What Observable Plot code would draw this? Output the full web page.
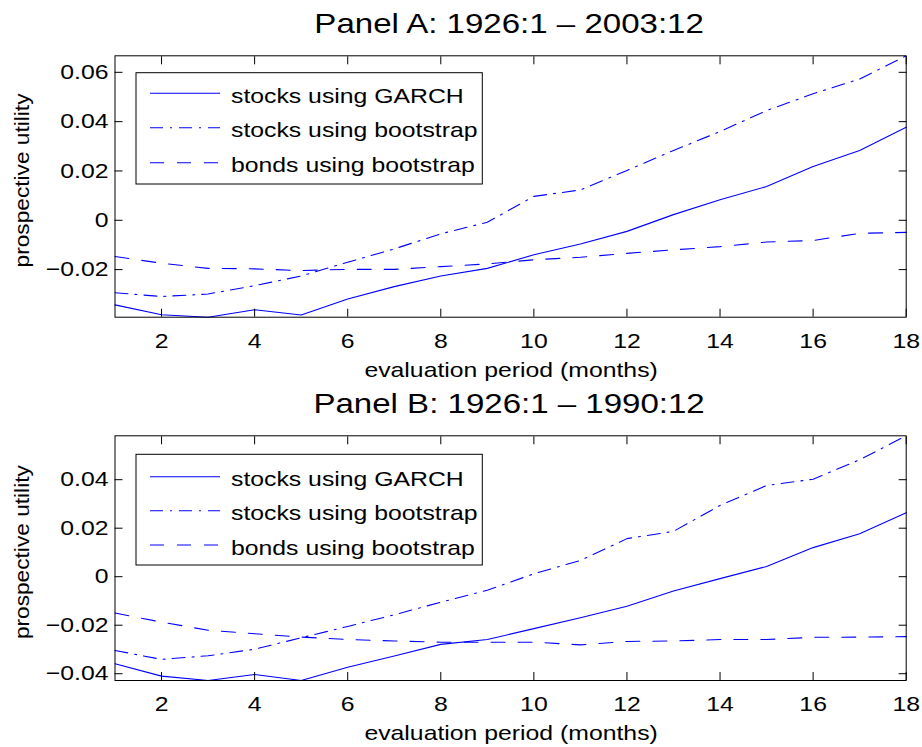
<!DOCTYPE html>
<html>
<head>
<meta charset="utf-8">
<script src="https://cdn.jsdelivr.net/npm/d3@7"></script>
<script src="https://cdn.jsdelivr.net/npm/@observablehq/plot@0.6"></script>
<style>
  body { margin: 0; background: #ffffff; }
  #chart svg { display: block; }
</style>
</head>
<body>
<div id="chart"></div>
<script>
// ---------------- data ----------------
const months = [1, 2, 3, 4, 5, 6, 7, 8, 9, 10, 11, 12, 13, 14, 15, 16, 17, 18];
const xTicks = [2, 4, 6, 8, 10, 12, 14, 16, 18];
const seriesNames = ["stocks using GARCH", "stocks using bootstrap", "bonds using bootstrap"];
const panelTitles = ["Panel A: 1926:1 \u2013 2003:12", "Panel B: 1926:1 \u2013 1990:12"];
const xLabel = "evaluation period (months)";
const yLabel = "prospective utility";
const yTicksA = [-0.02, 0, 0.02, 0.04, 0.06];
const yTicksB = [-0.04, -0.02, 0, 0.02, 0.04];

const aGarch = [-0.0343, -0.0383, -0.0393, -0.0363, -0.0384, -0.0319, -0.0269, -0.0226, -0.0195, -0.0140, -0.0096, -0.0045, 0.0023, 0.0083, 0.0137, 0.0218, 0.0283, 0.0377];
const aStocksBoot = [-0.0294, -0.0309, -0.0299, -0.0265, -0.0226, -0.0170, -0.0116, -0.0055, -0.0008, 0.0097, 0.0123, 0.0202, 0.0283, 0.0360, 0.0445, 0.0513, 0.0573, 0.0667];
const aBondsBoot = [-0.0147, -0.0174, -0.0195, -0.0197, -0.0204, -0.0199, -0.0199, -0.0188, -0.0177, -0.0160, -0.0150, -0.0134, -0.0120, -0.0107, -0.0088, -0.0082, -0.0053, -0.0049];

const bGarch = [-0.0359, -0.0410, -0.0428, -0.0403, -0.0428, -0.0373, -0.0327, -0.0279, -0.0259, -0.0214, -0.0169, -0.0122, -0.0059, -0.0008, 0.0042, 0.0120, 0.0177, 0.0264];
const bStocksBoot = [-0.0304, -0.0341, -0.0326, -0.0299, -0.0252, -0.0205, -0.0157, -0.0105, -0.0056, 0.0012, 0.0067, 0.0157, 0.0187, 0.0294, 0.0376, 0.0402, 0.0482, 0.0581];
const bBondsBoot = [-0.0150, -0.0187, -0.0221, -0.0235, -0.0249, -0.0259, -0.0265, -0.0270, -0.0270, -0.0270, -0.0281, -0.0267, -0.0265, -0.0259, -0.0259, -0.0250, -0.0249, -0.0247];

// ---------------- styling / layout ----------------
const BLUE = "#0000ff";
const dashes = [null, "13,7,2,7", "14,13"];
const FONT = "'Liberation Sans', Arial, Helvetica, sans-serif";
const STRETCH = 1.18;
const W = 922, ML = 114.5, MR = 16.3;

const panels = [
  { title: panelTitles[0], series: [aGarch, aStocksBoot, aBondsBoot], yTicks: yTicksA,
    height: 380, mt: 55.3, mb: 63.3, legTop: 17.4, legH: 111.3, rows: [38, 72.4, 107.4] },
  { title: panelTitles[1], series: [bGarch, bStocksBoot, bBondsBoot], yTicks: yTicksB,
    height: 367, mt: 55.3, mb: 67, legTop: 19, legH: 110.7, rows: [41.4, 75.4, 109.7] }
];

const root = document.getElementById("chart");

function makePanel(p) {
  const rows = [];
  p.series.forEach((vals, s) => months.forEach((m, i) => rows.push({ series: seriesNames[s], s, month: m, value: vals[i] })));
  const empty = () => "";
  const svg = Plot.plot({
    width: W, height: p.height,
    marginLeft: ML, marginRight: MR, marginTop: p.mt, marginBottom: p.mb,
    style: { fontFamily: FONT, fontSize: "21px", color: "black", background: "white", overflow: "visible" },
    x: { domain: [1, 18], inset: 0 },
    y: { inset: 0 },
    marks: [
      ...[0, 1, 2].map(s => Plot.lineY(rows.filter(d => d.s === s), {
        x: "month", y: "value", stroke: BLUE, strokeWidth: 1.1, strokeDasharray: dashes[s]
      })),
      // inward ticks
      Plot.axisX({ anchor: "bottom", ticks: xTicks, tickSize: 8, dy: -8, tickFormat: empty, label: null }),
      Plot.axisX({ anchor: "top", ticks: xTicks, tickSize: 8, dy: 8, tickFormat: empty, label: null }),
      Plot.axisY({ anchor: "left", ticks: p.yTicks, tickSize: 8, dx: 8, tickFormat: empty, label: null }),
      Plot.axisY({ anchor: "right", ticks: p.yTicks, tickSize: 8, dx: -8, tickFormat: empty, label: null }),
      // tick labels
      Plot.axisX({ anchor: "bottom", ticks: xTicks, tickSize: 0, tickPadding: 15.5, tickFormat: d => String(d), label: null }),
      Plot.axisY({ anchor: "left", ticks: p.yTicks, tickSize: 0, tickPadding: 6.5, tickFormat: d3.format(""), label: null }),
      Plot.frame({ stroke: "black", strokeWidth: 1 })
    ]
  });
  root.appendChild(svg);

  const sel = d3.select(svg);
  const fl = ML, fr = W - MR, ft = p.mt, fb = p.height - p.mb;
  // title
  sel.append("text").attr("x", (fl + fr) / 2 - 1).attr("y", ft - 22)
    .attr("text-anchor", "middle").style("font-size", "28px").attr("fill", "black").text(p.title);
  // x label
  sel.append("text").attr("x", (fl + fr) / 2 + 1).attr("y", fb + 60)
    .attr("text-anchor", "middle").attr("fill", "black").text(xLabel);
  // y label
  sel.append("text").attr("transform", `translate(29,${(ft + fb) / 2 - 5.5}) rotate(-90)`)
    .attr("text-anchor", "middle").attr("fill", "black").attr("data-k", "1.08").text(yLabel);
  // legend
  const g = sel.append("g");
  g.append("rect").attr("x", fl + 21.5).attr("y", ft + p.legTop).attr("width", 346.3).attr("height", p.legH)
    .attr("fill", "white").attr("stroke", "black").attr("stroke-width", 1);
  seriesNames.forEach((name, s) => {
    const yy = ft + p.rows[s];
    g.append("line").attr("x1", fl + 35.5).attr("x2", fl + 105.5).attr("y1", yy).attr("y2", yy)
      .attr("stroke", BLUE).attr("stroke-width", 1.1).attr("stroke-dasharray", dashes[s]);
    g.append("text").attr("x", fl + 116.5).attr("y", yy + 9.5).attr("text-anchor", "start")
      .attr("fill", "black").text(name);
  });

  // horizontal stretch of the Helvetica-like glyphs to match the reference
  svg.querySelectorAll("text").forEach(t => {
    const k = t.getAttribute("data-k") ? +t.getAttribute("data-k") : STRETCH;
    const len = t.getComputedTextLength();
    if (len > 0) {
      t.setAttribute("textLength", (len * k).toFixed(2));
      t.setAttribute("lengthAdjust", "spacingAndGlyphs");
    }
  });
}

panels.forEach(makePanel);
</script>
</body>
</html>
